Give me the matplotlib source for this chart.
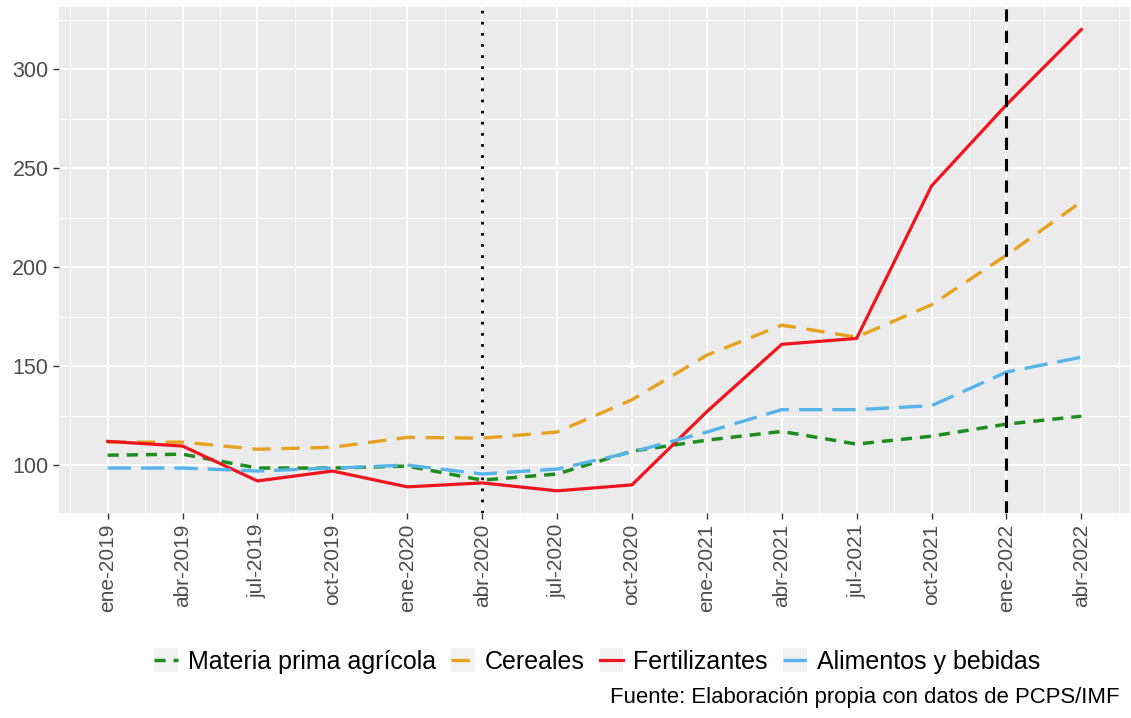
import matplotlib
matplotlib.use("Agg")
import matplotlib.pyplot as plt
from matplotlib.legend_handler import HandlerLine2D
from matplotlib.patches import Rectangle
import numpy as np

labels = ["ene-2019", "abr-2019", "jul-2019", "oct-2019", "ene-2020", "abr-2020",
          "jul-2020", "oct-2020", "ene-2021", "abr-2021", "jul-2021", "oct-2021",
          "ene-2022", "abr-2022"]
materia = [105, 105.5, 98.5, 98.5, 99.5, 92.4, 95.5, 107, 112.6, 117, 110.6, 114.6, 120.7, 124.7]
cereales = [111.6, 111.6, 108, 109, 114, 113.6, 116.7, 133, 155.5, 170.7, 164.6, 181, 206, 233]
fertil = [112, 109.6, 92, 97, 89, 91, 87, 90, 127, 161, 164, 241, 282, 320]
alimentos = [98.5, 98.5, 97, 98.5, 100, 95.5, 98, 106.6, 116.7, 128, 128, 130, 147, 154.5]
vline_dotted = "abr-2020"
vline_dashed = "ene-2022"

plt.rcParams['font.family'] = ['Liberation Sans', 'DejaVu Sans']


class HandlerKey(HandlerLine2D):
    def create_artists(self, legend, orig_handle, xdescent, ydescent, width, height, fontsize, trans):
        artists = super().create_artists(legend, orig_handle, xdescent, ydescent, width, height, fontsize, trans)
        side = width
        rect = Rectangle((-xdescent, -ydescent + height / 2 - side / 2), side, side,
                         facecolor="#F2F2F2", edgecolor="none", transform=trans, zorder=0)
        return [rect] + list(artists)


fig = plt.figure(figsize=(11.31, 7.18), dpi=100)
ax = fig.add_axes([59/1131, 1-513/718, (1130-59)/1131, (513-7)/718])
ax.set_facecolor("#EBEBEB")
x = np.arange(len(labels))

ax.set_xticks(x)
ax.set_xticks(np.arange(-0.5, len(labels)+0.5, 1), minor=True)
ax.set_yticks([100, 150, 200, 250, 300])
ax.set_yticks([75, 125, 175, 225, 275, 325], minor=True)
ax.grid(which="major", color="white", lw=1.4)
ax.grid(which="minor", color="white", lw=0.7)
ax.set_axisbelow(True)
for s in ax.spines.values():
    s.set_visible(False)

ax.plot(x, materia, color="#1E8C1E", lw=2.5, dashes=(3.2, 2.3), label="Materia prima agrícola")
ax.plot(x, cereales, color="#E6A21E", lw=2.4, dashes=(5.5, 3.2), label="Cereales")
ax.plot(x, fertil, color="#F0141E", lw=2.3, label="Fertilizantes")
ax.plot(x, alimentos, color="#56B4E9", lw=2.4, dashes=(7, 3), label="Alimentos y bebidas")

ax.axvline(labels.index(vline_dotted), color="black", lw=2, ls=(0, (1, 3)))
ax.axvline(labels.index(vline_dashed), color="black", lw=2.2, ls=(0, (4, 3)))

ax.set_xlim(-0.65, len(labels) - 1 + 0.65)
ax.set_ylim(75.8, 331.4)
ax.set_xticklabels(labels, rotation=90, fontsize=15, color="#4D4D4D")
ax.tick_params(axis="y", labelsize=15.5, labelcolor="#4D4D4D")
ax.tick_params(which="major", color="#333333", length=4, width=1)
ax.tick_params(which="minor", length=0)

leg = fig.legend(loc="center", bbox_to_anchor=(597/1131, 1-662/718), ncol=4, frameon=False,
                 fontsize=18, handlelength=0.95, handletextpad=0.4, columnspacing=0.6,
                 handler_map={matplotlib.lines.Line2D: HandlerKey()})
fig.text(1120/1131, 1-697/718, "Fuente: Elaboración propia con datos de PCPS/IMF",
         ha="right", va="center", fontsize=15.9, color="black")

fig.savefig("out.png", dpi=100)
